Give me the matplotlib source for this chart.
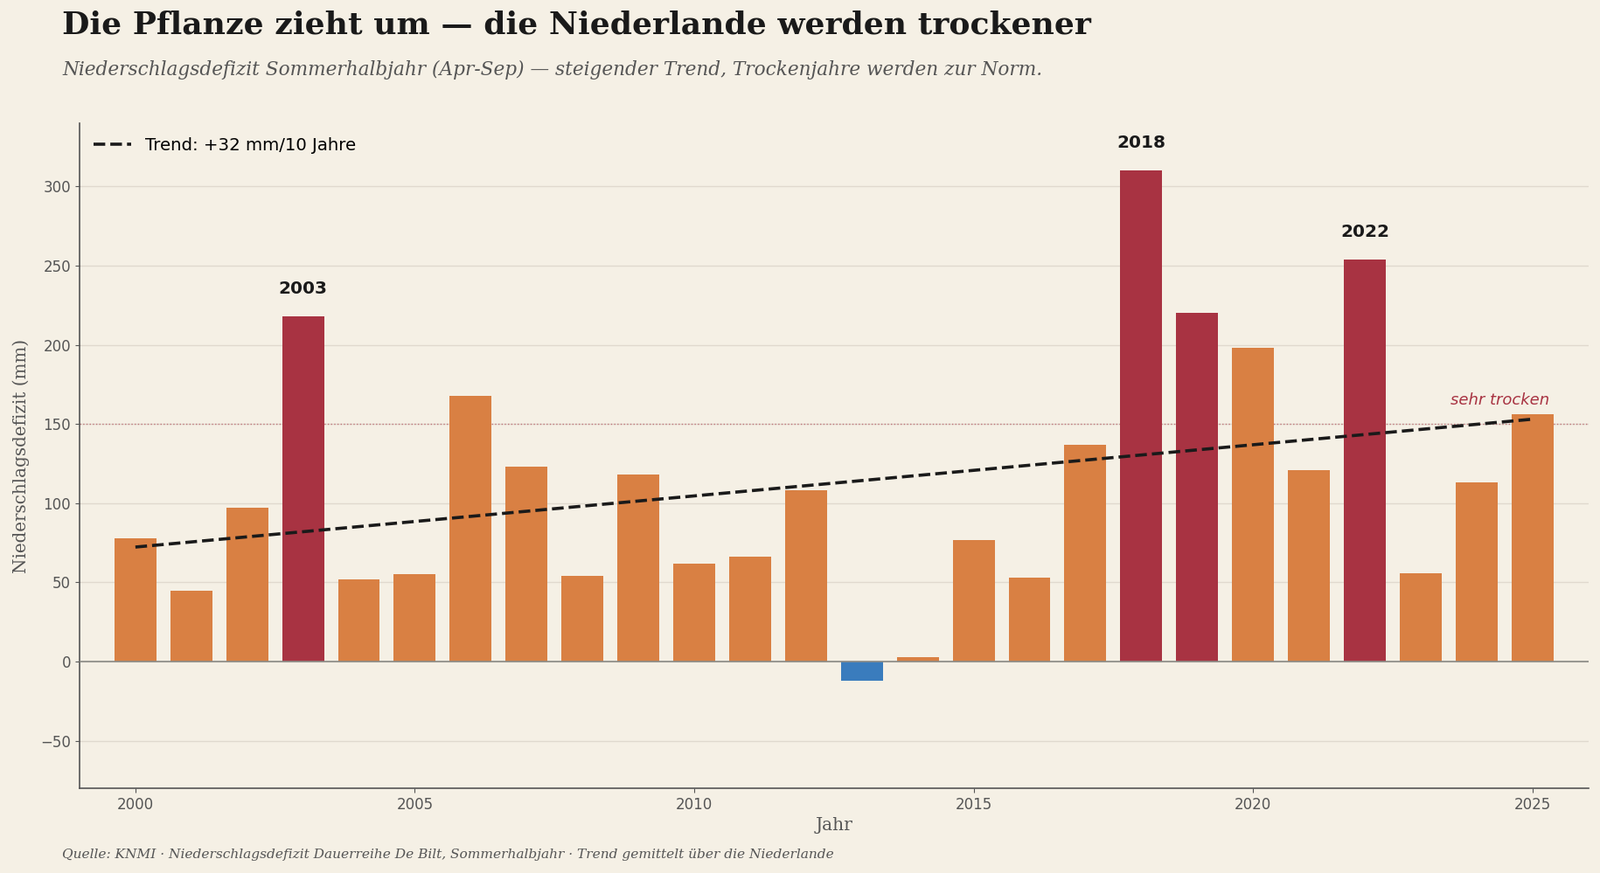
import numpy as np
import matplotlib
matplotlib.use("Agg")
from matplotlib import pyplot as plt

years = np.arange(2000, 2026)
deficit = [78, 45, 97, 218, 52, 55, 168, 123, 54, 118, 62, 66, 108, -12, 3,
           77, 53, 137, 310, 220, 198, 121, 254, 56, 113, 156]
highlight_years = [2003, 2018, 2022]
dry_level = 150
extreme_level = 200

bg = "#f5f0e5"
orange = "#d98043"
darkred = "#a83342"
blue = "#3a7cbd"

fig = plt.figure(figsize=(18.3, 9.99), dpi=100, facecolor=bg)
ax = fig.add_axes([0.0497, 0.097, 0.943, 0.762], facecolor=bg)

colors = [blue if v < 0 else (darkred if v > extreme_level else orange) for v in deficit]
ax.bar(years, deficit, width=0.75, color=colors, zorder=3)

# trend fit
slope, icpt = np.polyfit(years, deficit, 1)
trend = slope * years + icpt
ax.plot(years, trend, "--", color="#1a1a1a", lw=2.6, zorder=4,
        label=f"Trend: +{slope * 10:.0f} mm/10 Jahre")

ax.axhline(0, color="#8a8a85", lw=1.2, zorder=4)
ax.axhline(dry_level, color=darkred, lw=1, ls=":", alpha=0.6, zorder=2)
ax.text(2025.3, dry_level + 10, "sehr trocken", color=darkred, style="italic",
        fontsize=13, ha="right", va="bottom")

for y in highlight_years:
    v = deficit[list(years).index(y)]
    ax.text(y, v + 12, str(y), ha="center", va="bottom", fontsize=14.5,
            fontweight="bold", color="#1a1a1a")

ax.set_xlim(1999, 2026)
ax.set_ylim(-80, 340)
ax.set_xticks(range(2000, 2026, 5))
ax.set_yticks(range(-50, 301, 50))
ax.grid(axis="y", color="#e0d9ce", lw=1, zorder=0)
ax.tick_params(colors="#555555", labelsize=12)
for s in ["top", "right"]:
    ax.spines[s].set_visible(False)
for s in ["left", "bottom"]:
    ax.spines[s].set_color("#555555")
    ax.spines[s].set_linewidth(1.2)

ax.set_xlabel("Jahr", family="DejaVu Serif", fontsize=14.5, color="#555555")
ax.set_ylabel("Niederschlagsdefizit (mm)", family="DejaVu Serif", fontsize=14.3,
              color="#555555", labelpad=9)

leg = ax.legend(loc="upper left", frameon=False, fontsize=14.2, handlelength=2.2,
                borderaxespad=0.4)

fig.text(0.039, 0.971, "Die Pflanze zieht um — die Niederlande werden trockener",
         family="DejaVu Serif", fontweight="bold", fontsize=26, color="#1a1a1a",
         va="center")
fig.text(0.039, 0.920, "Niederschlagsdefizit Sommerhalbjahr (Apr-Sep) — steigender Trend, "
         "Trockenjahre werden zur Norm.", family="DejaVu Serif", style="italic",
         fontsize=15.6, color="#555555", va="center")
fig.text(0.039, 0.021, "Quelle: KNMI · Niederschlagsdefizit Dauerreihe De Bilt, Sommerhalbjahr · "
         "Trend gemittelt über die Niederlande", family="DejaVu Serif", style="italic",
         fontsize=11.1, color="#555555", va="center")

fig.savefig("out.png", facecolor=bg)
